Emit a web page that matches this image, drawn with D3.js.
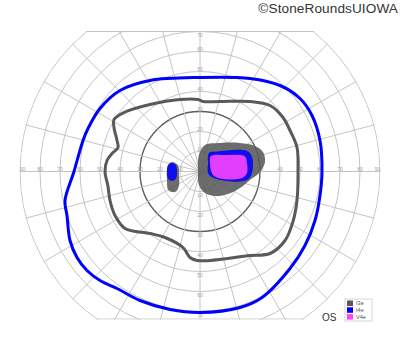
<!DOCTYPE html>
<head>
    <meta charset="utf-8">
    <script src="https://d3js.org/d3.v7.js"></script>
    <style>
        body { margin: 0; background: #fff; }
        text { font-family: "Liberation Sans", Arial, sans-serif; }
    </style>
</head>
<body>
    <svg id="chart" width="400" height="352"></svg>
    <script>
        // isopters, in degrees [horizontal, vertical] (left = temporal for OS)
        const isoI4e = [[0,47],[25,46.5],[40,43],[50,36.5],[56,28],[60,15.5],[61,0],[60,-12],[57.5,-24.5],
            [52.5,-37],[45,-48.5],[31,-63],[20,-68],[0,-70.5],[-15,-69],[-30,-64.5],[-41.5,-58.5],[-50,-54.5],
            [-56.5,-49.5],[-61.5,-43],[-65,-34.5],[-66.5,-22],[-67.5,-14.5],[-63,0],[-58.5,15.5],[-56,21.5],
            [-50,31.5],[-40,40.5],[-25,45.5]];
        const isoI3e = [[-1,36],[1.5,35],[10,35],[25,35],[35,33],[41.5,27],[45,20.5],[48.5,12],[49,0],
            [48.5,-14.5],[46.5,-25],[42.5,-34.5],[35,-41],[25,-42],[5,-44.5],[-1.5,-44.5],[-5,-43],[-8.5,-38],
            [-17.5,-33],[-25,-31],[-37.5,-28.5],[-42.5,-22],[-45,-14.5],[-46,-7.5],[-47.5,0],[-46.5,5.5],
            [-44,9],[-41,12],[-41.5,15.5],[-43,22],[-43,26],[-38,29.5],[-25,33.5],[-10,36]];

        // filled scotoma / island areas
        const blindI3e = [[-13.5,4.75],[-11,3],[-10.5,-2],[-10.5,-7],[-12,-10],[-14,-10.25],[-16,-9],[-16.5,-4],[-16.5,1],[-15.5,4]];
        const blindI4e = [[-14,4.25],[-12,3],[-11.5,0],[-12,-3.5],[-14,-4.75],[-16,-3.5],[-16.5,0],[-16,3]];
        const islandI3e = [[0,9.75],[2.5,13.25],[10,14.25],[20,14.25],[27.5,12.75],[31.5,9.75],[32.5,4.75],[30,-0.25],
            [25,-4.25],[20,-8.25],[14,-11.25],[7.5,-12.25],[2.5,-10.75],[-0.5,-6.75],[-1,0.75],[-1,5.75]];
        const islandI4e = [[4.5,9.25],[8.5,10],[23.5,10.25],[26,7.25],[26,-0.75],[23.5,-4.25],[13.5,-4.75],[4.5,-1.75],[4,4.25]];
        const islandV4e = [[5.5,7.75],[13.5,8.25],[22.5,7.5],[23.5,4.25],[23.5,-0.75],[21,-3.25],[11.5,-3.75],[6.5,-1.75],[5,4.25]];

        const circles = [10, 20, 30, 40, 50, 60, 70, 80, 90];
        const meridians = d3.range(0, 360, 15);
        const hLabels = [10, 20, 30, 40, 50, 60, 70, 80, 90];
        const vLabels = [10, 20, 30, 40, 50, 60, 70];
        const legendNames = ["I3e", "I4e", "V4e"];
        const colors = { I3e: "#595959", I4e: "#0000ff", V4e: "#ff45ff" };

        const svg = d3.select("#chart");
        const cx = 200, cy = 171.5;
        const R = 180;
        const r = d3.scaleLinear().domain([0, 90]).range([0, R]);
        const x = d3.scaleLinear().domain([-90, 90]).range([cx - R, cx + R]);
        const y = d3.scaleLinear().domain([-90, 90]).range([cy + R, cy - R]);
        const topY = y(70), botY = y(-73.8);

        const defs = svg.append("defs");
        defs.append("clipPath").attr("id", "clipRect")
            .append("rect").attr("x", 0).attr("y", topY - 0.5).attr("width", 400).attr("height", botY - topY + 1);
        defs.append("clipPath").attr("id", "clipCirc")
            .append("circle").attr("cx", cx).attr("cy", cy).attr("r", R + 0.5);

        const g = svg.append("g").attr("clip-path", "url(#clipRect)")
            .append("g").attr("clip-path", "url(#clipCirc)");

        // grid
        g.selectAll("circle.ring").data(circles).join("circle")
            .attr("class", "ring")
            .attr("cx", cx).attr("cy", cy).attr("r", d => r(d))
            .attr("fill", "none")
            .attr("stroke", d => d === 30 ? "#5e5e5e" : "#c4c4c4")
            .attr("stroke-width", d => d === 30 ? 1.4 : 1);

        g.selectAll("line.spoke").data(meridians).join("line")
            .attr("class", "spoke")
            .attr("x1", cx).attr("y1", cy)
            .attr("x2", d => cx + r(95) * Math.cos(d * Math.PI / 180))
            .attr("y2", d => cy - r(95) * Math.sin(d * Math.PI / 180))
            .attr("stroke", "#c4c4c4").attr("stroke-width", 1);

        g.selectAll("line.edge").data([topY, botY]).join("line")
            .attr("class", "edge")
            .attr("x1", 0).attr("x2", 400).attr("y1", d => d).attr("y2", d => d)
            .attr("stroke", "#c4c4c4").attr("stroke-width", 1);

        // labels
        const lab = svg.append("g").attr("fill", "#a0a0a0").attr("font-size", 5).attr("text-anchor", "middle");
        hLabels.forEach(d => {
            const off = d === 90 ? 2.5 : 0;
            lab.append("text").attr("x", x(-d) + off).attr("y", cy - 0.3).text(d);
            lab.append("text").attr("x", x(d) - off).attr("y", cy - 0.3).text(d);
        });
        vLabels.forEach(d => {
            const ty = d === 70 ? topY + 5.5 : y(d) - 0.8;
            lab.append("text").attr("x", cx).attr("y", ty).text(d);
            lab.append("text").attr("x", cx).attr("y", y(-d) + 5.5).text(d);
        });

        const line = d3.line().x(d => x(d[0])).y(d => y(d[1]))
            .curve(d3.curveCatmullRomClosed.alpha(0.5));

        // filled areas
        const areas = [
            [blindI3e, "I3e"], [islandI3e, "I3e"],
            [blindI4e, "I4e"], [islandI4e, "I4e"],
            [islandV4e, "V4e"]
        ];
        svg.append("g").selectAll("path").data(areas).join("path")
            .attr("d", d => line(d[0]))
            .attr("fill", d => colors[d[1]])
            .attr("fill-opacity", 0.88)
            .attr("stroke", "none");

        // outer isopters
        svg.append("path").attr("d", line(isoI3e))
            .attr("fill", "none").attr("stroke", colors.I3e).attr("stroke-width", 3);
        svg.append("path").attr("d", line(isoI4e))
            .attr("fill", "none").attr("stroke", colors.I4e).attr("stroke-width", 3);

        // eye label
        svg.append("text").attr("x", 322).attr("y", 320.5)
            .attr("font-size", 10).attr("fill", "#333").text("OS");

        // legend
        const lg = svg.append("g").attr("transform", "translate(345,299)");
        lg.append("rect").attr("width", 27).attr("height", 22)
            .attr("fill", "#fff").attr("stroke", "#ccc").attr("stroke-width", 0.8);
        legendNames.forEach((n, i) => {
            lg.append("rect").attr("x", 2).attr("y", 1.5 + i * 6.8).attr("width", 6).attr("height", 5.5)
                .attr("fill", colors[n]);
            lg.append("text").attr("x", 11).attr("y", 6.2 + i * 6.8)
                .attr("font-size", 5.6).attr("fill", "#555").text(n);
        });

        // copyright
        svg.append("text").attr("x", 398).attr("y", 13)
            .attr("text-anchor", "end").attr("font-size", 13.6).attr("fill", "#333")
            .attr("letter-spacing", 0.1)
            .text("©StoneRoundsUIOWA");
    </script>
</body>
